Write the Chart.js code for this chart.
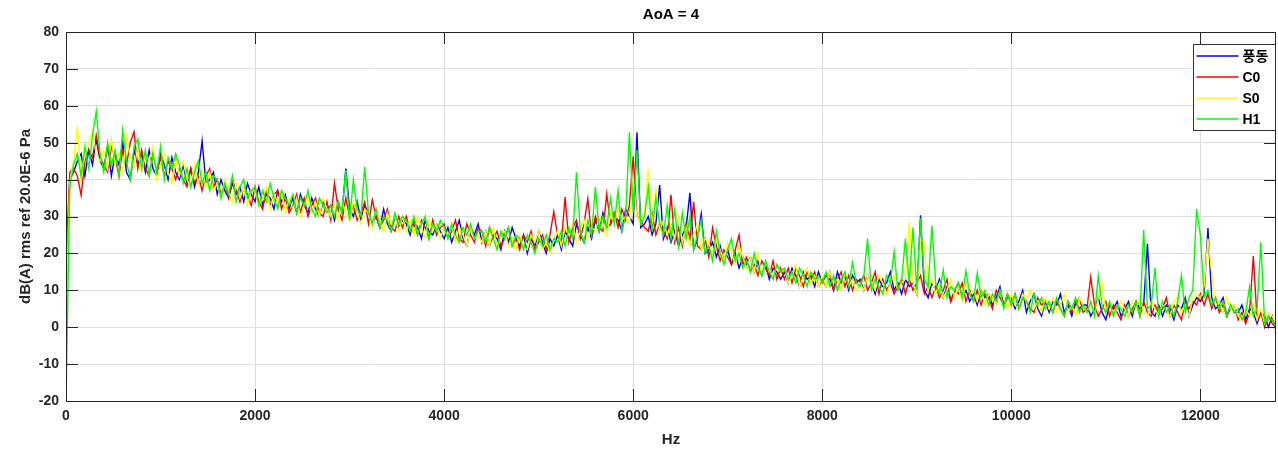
<!DOCTYPE html>
<html lang="ko">
<head>
  <meta charset="UTF-8">
  <title>AoA = 4</title>
  <script src="https://cdn.jsdelivr.net/npm/chart.js"></script>
  <style>
    html, body { margin: 0; padding: 0; background: #fff; }
    #wrap { width: 1278px; height: 451px; }
  </style>
</head>
<body>
  <div id="wrap"><canvas id="spec"></canvas></div>
  <script>
    // spectrum, one value every 40 Hz (0 .. 12800 Hz)
    const hzStep = 40;
    const seriesNames = ['풍동', 'C0', 'S0', 'H1'];
    const seriesColors = ['#0000ff', '#ff0000', '#ffff00', '#00ff00'];
    const xTickValues = [0, 2000, 4000, 6000, 8000, 10000, 12000];
    const yTickValues = [-20, -10, 0, 10, 20, 30, 40, 50, 60, 70, 80];

    const windTunnel = [
      10, 40, 42, 45, 47, 41, 48, 44, 51, 45,
      43, 49, 41, 47, 44, 50, 42, 40, 48, 44,
      47, 42, 48, 43, 41, 47, 44, 40, 46, 42,
      40, 44, 39, 43, 38, 42, 50.5, 39, 40, 42,
      36, 40, 37, 35, 39, 36, 38, 34, 39, 36,
      34, 38, 33, 36, 35, 32, 37, 34, 36, 32,
      35, 31, 36, 33, 31, 35, 32, 30, 34, 32,
      33, 29, 34, 31, 43, 32, 30, 34, 29, 33,
      31, 28, 30, 27, 32, 28, 26, 30, 27, 29,
      28, 25, 29, 27, 24, 29, 26, 25, 28, 26,
      24, 27, 23, 26, 29, 24, 22, 27, 25, 28,
      23, 26, 22, 25, 24, 21, 26, 23, 27, 24,
      22, 25, 20, 24, 22, 26, 23, 20, 24, 22,
      25, 21, 26, 24, 22, 28, 25, 23, 27, 24,
      29, 26, 31, 27, 28, 30, 29, 26, 32, 30,
      28, 52.8, 27, 28, 30, 25, 28, 38.5, 24, 27,
      23, 26, 22, 25, 27, 36.4, 21, 24, 30.7, 20,
      21, 23, 19, 22, 18, 21, 17, 20, 16, 19,
      17, 19, 15, 18, 14, 17, 13, 16, 15, 13,
      15, 12, 16, 14, 11, 15, 13, 14, 11, 15,
      12, 14, 13, 10, 15, 12, 14, 10, 14, 12,
      13, 10, 14, 12, 9, 13, 11, 12, 15, 10,
      12, 9, 13, 11, 12, 9, 30.3, 10, 8, 12,
      10, 13, 8, 11, 7, 10, 12, 8, 10, 7,
      9, 6, 10, 8, 9, 6, 8, 11, 6, 8,
      8, 5, 7, 10, 4, 7, 9, 5, 3, 7,
      4, 7, 6, 9, 4, 6, 3, 7, 5, 6,
      6, 3, 5, 8, 4, 2, 6, 5, 7, 3,
      5, 7, 3, 7, 5, 6, 22.6, 4, 3, 6,
      3, 6, 5, 2, 6, 5, 8, 3, 6, 8,
      7, 9, 26.9, 8, 5, 6, 8, 3, 6, 4,
      4, 6, 2, 5, 4, 1, 4, 3, 0, 3,
      -1
    ];

    const c0 = [
      18, 42, 43, 41, 35.8, 45, 48, 46, 52, 46,
      44, 42, 49, 46, 41, 48, 44, 50, 53, 43,
      48, 43, 41, 47, 42, 46, 41, 45, 43, 40,
      43, 40, 38, 43, 39, 41, 37, 41, 43, 38,
      40, 36, 39, 35, 40, 37, 34, 38, 36, 33,
      38, 34, 32, 37, 33, 36, 37, 32, 35, 31,
      33, 36, 31, 35, 30, 33, 35, 31, 30, 34,
      29, 39, 32, 29, 35, 30, 33, 29, 31, 34,
      28, 34.5, 30, 27, 29, 32, 27, 26, 30, 27,
      30, 26, 28, 25, 29, 27, 24, 29, 25, 27,
      28, 24, 26, 29, 24, 23, 28, 25, 23, 27,
      26, 22, 27, 24, 26, 22, 24, 27, 22, 24,
      21, 25, 23, 26, 21, 23, 25, 21, 25, 31.3,
      25, 23, 35.3, 23, 27, 29, 24, 28, 34.8, 25,
      30, 27, 26, 36.1, 28, 31, 27, 32, 29, 33,
      46.3, 30, 29, 27, 26, 31, 25, 28, 26, 24,
      35.9, 23, 27, 22, 28, 24, 34, 22, 21, 24,
      19, 26.9, 22, 18, 21, 19, 17, 21, 25, 17,
      19, 15, 17, 14, 18, 16, 14, 18, 13, 16,
      13, 16, 12, 16, 14, 11, 15, 13, 15, 11,
      13, 11, 15, 10, 13, 15, 11, 14, 10, 13,
      12, 14, 10, 12, 15, 9, 13, 10, 12, 9,
      11, 13, 9, 13, 10, 12, 14, 9, 11, 8,
      11, 8, 10, 13, 7, 10, 9, 12, 7, 10,
      7, 10, 6, 9, 8, 5, 10, 8, 6, 9,
      6, 9, 5, 8, 7, 5, 4, 8, 6, 7,
      6, 4, 7, 5, 3, 7, 4, 6, 8, 4,
      5, 13.6, 6, 3, 5, 7, 3, 6, 4, 2,
      6, 3, 5, 7, 3, 7, 4, 3, 6, 4,
      5, 8, 3, 6, 4, 2, 7, 5, 7, 6,
      9, 6, 9, 5, 8, 4, 6, 3, 5, 6,
      2, 4, 1, 4, 19.3, 2, 4, 0, 3, 1,
      0
    ];

    const s0 = [
      5, 39, 45, 54.5, 40, 47, 50, 53, 47, 45,
      48, 43, 51, 44, 47, 42, 52, 46, 43, 49,
      42, 47, 45, 49, 40, 44, 47, 42, 39, 46,
      41, 45, 40, 38, 44, 39, 43, 38, 42, 37,
      39, 35, 40, 37, 34, 39, 35, 38, 33, 37,
      37, 33, 35, 38, 32, 36, 34, 37, 31, 35,
      32, 35, 30, 33, 35, 31, 34, 30, 35, 32,
      30, 33, 29, 34, 31, 29, 34, 31, 28, 32,
      31, 27, 32, 29, 26, 31, 28, 30, 26, 30,
      26, 29, 25, 30, 27, 24, 29, 26, 28, 24,
      27, 24, 28, 23, 27, 25, 22, 27, 24, 25,
      23, 26, 22, 27, 21, 25, 26, 22, 24, 21,
      25, 22, 21, 25, 23, 26, 21, 23, 20, 24,
      26, 22, 27, 25, 28, 23, 26, 29, 24, 27,
      26, 30, 28, 25, 31, 28, 32, 29, 30, 28,
      40, 30, 29, 31, 42.9, 27, 38, 26, 29, 25,
      28, 24, 30, 23, 27, 22, 25, 28, 21, 24,
      23, 19, 24, 21, 18, 23, 20, 17, 22, 19,
      16, 19, 15, 20, 14, 17, 16, 13, 17, 15,
      16, 12, 14, 17, 11, 14, 16, 12, 14, 11,
      14, 11, 15, 12, 13, 10, 15, 11, 13, 10,
      12, 10, 14, 12, 10, 14, 12, 9, 12, 14,
      10, 12, 13, 28.5, 12, 9, 24, 22.9, 10, 13,
      9, 12, 8, 10, 13, 8, 11, 7, 12, 9,
      10, 7, 11, 6, 9, 8, 6, 10, 8, 5,
      9, 6, 5, 9, 7, 10, 5, 7, 4, 8,
      5, 8, 4, 6, 9, 4, 6, 3, 8, 6,
      4, 7, 3, 8, 12, 4, 7, 3, 5, 7,
      5, 3, 7, 5, 8, 4, 3, 7, 5, 3,
      7, 4, 3, 7, 8, 4, 6, 3, 8, 9,
      8, 11, 24, 14.7, 6, 7, 4, 8, 5, 6,
      3, 2, 5, 3, 6, 2, 5, 1, 4, 3,
      1
    ];

    const h1 = [
      -20, 38, 44, 47, 41, 49, 43, 52, 58.5, 47,
      42, 50, 44, 48, 41, 53.5, 45, 40, 49, 51,
      43, 48, 41, 47, 42, 49, 40, 46, 43, 47,
      44, 39, 43, 38, 42, 45, 39, 42, 37, 41,
      40, 35, 39, 36, 41, 34, 38, 40, 35, 37,
      38, 33, 37, 34, 39, 35, 32, 37, 35, 33,
      36, 31, 35, 33, 37, 32, 30, 35, 33, 31,
      33, 30, 34, 31, 42.5, 29, 40, 32, 30, 43.5,
      31, 28, 32, 27, 30, 29, 26, 31, 28, 30,
      29, 26, 30, 25, 28, 30, 24, 28, 26, 29,
      27, 24, 28, 25, 23, 27, 25, 28, 24, 26,
      26, 23, 27, 24, 21, 26, 24, 27, 22, 25,
      24, 21, 25, 23, 20, 24, 22, 25, 21, 24,
      23, 26, 22, 27, 24, 42, 26, 23, 29, 25,
      38, 26, 30, 27, 35, 28, 37, 26, 30, 52.8,
      31, 48, 28, 30, 38, 26, 35, 28, 25, 33,
      24, 32, 22, 31, 24, 30, 21, 25, 29, 20,
      22, 18, 26, 20, 17, 21, 24, 18, 20, 16,
      18, 15, 20, 16, 14, 18, 15, 13, 17, 15,
      16, 13, 15, 12, 16, 14, 11, 15, 13, 14,
      12, 15, 11, 14, 10, 13, 15, 11, 17.5, 12,
      11, 14, 24, 10, 13, 11, 9, 14, 12, 20.5,
      10, 13, 24, 12, 27, 10, 29.5, 13, 11, 27.5,
      12, 9, 15.5, 8, 11, 10, 12, 8, 15.3, 9,
      7, 14.7, 8, 10, 6, 9, 7, 10, 5, 9,
      6, 9, 5, 8, 7, 4, 9, 6, 8, 5,
      7, 4, 8, 5, 3, 7, 5, 8, 4, 6,
      4, 7, 3, 14, 6, 4, 7, 3, 6, 5,
      3, 6, 4, 7, 3, 26.4, 5, 6, 16, 3,
      7, 4, 6, 3, 7, 14, 4, 8, 10, 32,
      25, 8, 10, 6, 8, 5, 7, 3, 6, 4,
      5, 2, 4, 11, 3, 5, 23, 1, 3, 2,
      0
    ];

    const allSeries = [windTunnel, c0, s0, h1];
    const axisColor = '#262626';
    const fontFamily = '"Liberation Sans", Arial, "Noto Sans CJK KR", sans-serif';

    const datasets = allSeries.map((vals, k) => ({
      label: seriesNames[k],
      data: vals.map((v, i) => ({ x: i * hzStep, y: v })),
      borderColor: seriesColors[k],
      borderWidth: 1.4,
      pointRadius: 0,
      tension: 0,
      order: 4 - k   // blue under, green on top
    }));

    // MATLAB-ish inner ticks, axes box and legend
    const matlabAxes = {
      id: 'matlabAxes',
      afterDraw(chart) {
        const { ctx, chartArea: a, scales } = chart;
        const len = 12;
        ctx.save();
        ctx.strokeStyle = axisColor;
        ctx.lineWidth = 1;
        ctx.beginPath();
        scales.x.ticks.forEach(t => {
          const px = Math.round(scales.x.getPixelForValue(t.value)) + 0.5;
          ctx.moveTo(px, a.bottom); ctx.lineTo(px, a.bottom - len);
          ctx.moveTo(px, a.top); ctx.lineTo(px, a.top + len);
        });
        scales.y.ticks.forEach(t => {
          const py = Math.round(scales.y.getPixelForValue(t.value)) + 0.5;
          ctx.moveTo(a.left, py); ctx.lineTo(a.left + len, py);
          ctx.moveTo(a.right, py); ctx.lineTo(a.right - len, py);
        });
        ctx.stroke();
        ctx.strokeRect(Math.round(a.left) + 0.5, Math.round(a.top) + 0.5,
          Math.round(a.right - a.left) - 1, Math.round(a.bottom - a.top));

        // legend box in the top right corner
        const lx = 1193.5, ly = 44.5, lw = 82, lh = 86;
        ctx.fillStyle = '#ffffff';
        ctx.fillRect(lx, ly, lw, lh);
        ctx.strokeStyle = '#333333';
        ctx.strokeRect(lx, ly, lw, lh);
        ctx.font = 'bold 14px ' + fontFamily;
        ctx.textBaseline = 'middle';
        ctx.textAlign = 'left';
        seriesNames.forEach((name, k) => {
          const yy = Math.round(ly + 11 + k * 21.3);
          ctx.strokeStyle = seriesColors[k];
          ctx.lineWidth = 1.6;
          ctx.beginPath();
          ctx.moveTo(lx + 3, yy); ctx.lineTo(lx + 45, yy);
          ctx.stroke();
          ctx.fillStyle = '#000';
          ctx.fillText(name, lx + 49, yy + 1);
        });
        ctx.restore();
      }
    };

    new Chart(document.getElementById('spec'), {
      type: 'line',
      data: { datasets },
      plugins: [matlabAxes],
      options: {
        responsive: true,
        maintainAspectRatio: false,
        animation: false,
        layout: { padding: { left: 0, right: 2, top: 0, bottom: 0 } },
        plugins: {
          legend: { display: false },
          tooltip: { enabled: false },
          title: {
            display: true,
            text: 'AoA = 4',
            fullSize: false,
            color: '#000',
            font: { family: fontFamily, size: 15, weight: 'bold' },
            padding: { top: 6, bottom: 8 }
          }
        },
        scales: {
          x: {
            type: 'linear',
            min: 0,
            max: 12800,
            ticks: {
              color: axisColor,
              padding: 7,
              maxRotation: 0,
              autoSkip: false,
              callback: v => String(v),
              font: { family: fontFamily, size: 14, weight: 'bold' }
            },
            afterBuildTicks: s => { s.ticks = xTickValues.map(v => ({ value: v })); },
            afterFit: s => { s.height = 50; },
            grid: { color: '#dedede', drawTicks: false },
            border: { display: false },
            title: {
              display: true,
              text: 'Hz',
              color: axisColor,
              font: { family: fontFamily, size: 15, weight: 'bold' },
              padding: { top: 0, bottom: 2 }
            }
          },
          y: {
            min: -20,
            max: 80,
            ticks: {
              color: axisColor,
              padding: 7,
              autoSkip: false,
              callback: v => String(v),
              font: { family: fontFamily, size: 14, weight: 'bold' }
            },
            afterBuildTicks: s => { s.ticks = yTickValues.map(v => ({ value: v })); },
            afterFit: s => { s.width = 66; },
            grid: { color: '#dedede', drawTicks: false },
            border: { display: false },
            title: {
              display: true,
              text: 'dB(A) rms ref 20.0E-6 Pa',
              color: axisColor,
              font: { family: fontFamily, size: 15, weight: 'bold' },
              padding: { top: 17, bottom: 0 }
            }
          }
        }
      }
    });
  </script>
</body>
</html>
